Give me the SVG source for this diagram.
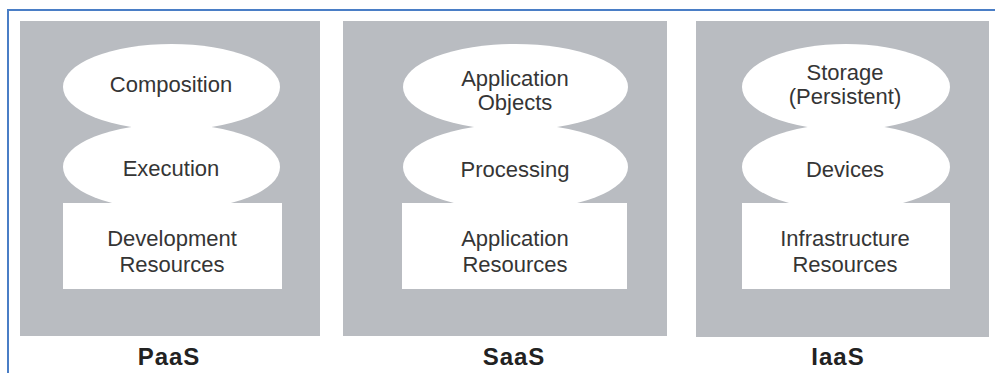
<svg xmlns="http://www.w3.org/2000/svg" width="995" height="373" viewBox="0 0 995 373">
<style>
.panel{fill:#b9bcc1}
.shape{fill:#ffffff}
.t{font-family:"Liberation Sans",Arial,sans-serif;font-size:22px;fill:#353535;text-anchor:middle}
.lbl{font-family:"Liberation Sans",Arial,sans-serif;font-size:24px;font-weight:bold;fill:#222222;text-anchor:middle;letter-spacing:1px}
.frame{stroke:#4a7ec6;stroke-width:2;fill:none}
</style>
<rect width="995" height="373" fill="#ffffff"/>
<path class="frame" d="M8,373 V10 H995"/>
<g id="paas">
<rect class="panel" x="20" y="21" width="300" height="315"/>
<ellipse class="shape" cx="171.5" cy="167" rx="108.5" ry="43"/>
<ellipse class="shape" cx="171.5" cy="87" rx="108.5" ry="43"/>
<rect class="shape" x="63" y="203" width="219" height="86"/>
<text class="t" x="171" y="92">Composition</text>
<text class="t" x="171" y="176">Execution</text>
<text class="t" x="172" y="246">Development</text>
<text class="t" x="172" y="272">Resources</text>
<text class="lbl" x="169" y="365">PaaS</text>
</g>
<g id="saas">
<rect class="panel" x="343" y="21" width="324" height="315"/>
<ellipse class="shape" cx="515.5" cy="167" rx="112.5" ry="43"/>
<ellipse class="shape" cx="515.5" cy="87" rx="112.5" ry="43"/>
<rect class="shape" x="402" y="203" width="225" height="86"/>
<text class="t" x="515" y="86">Application</text>
<text class="t" x="515" y="110">Objects</text>
<text class="t" x="515" y="177">Processing</text>
<text class="t" x="515" y="246">Application</text>
<text class="t" x="515" y="272">Resources</text>
<text class="lbl" x="514" y="365">SaaS</text>
</g>
<g id="iaas">
<rect class="panel" x="696" y="21" width="293" height="316"/>
<ellipse class="shape" cx="846" cy="167" rx="104" ry="43"/>
<ellipse class="shape" cx="846" cy="87" rx="104" ry="43"/>
<rect class="shape" x="742" y="203" width="208" height="86"/>
<text class="t" x="845" y="80">Storage</text>
<text class="t" x="845" y="104">(Persistent)</text>
<text class="t" x="845" y="177">Devices</text>
<text class="t" x="845" y="246">Infrastructure</text>
<text class="t" x="845" y="272">Resources</text>
<text class="lbl" x="838" y="365">IaaS</text>
</g>
<g id="connectors"></g>
</svg>
